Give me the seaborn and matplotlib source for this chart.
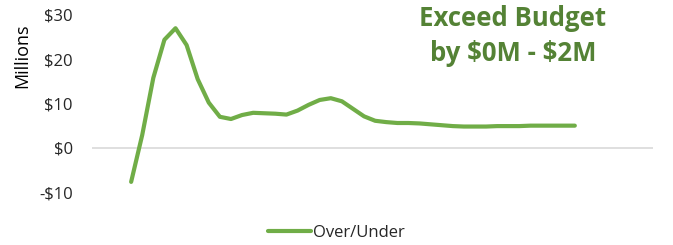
"""Over/Under budget line chart"""

import matplotlib

matplotlib.use("Agg")
import matplotlib.pyplot as plt
import pandas as pd
import seaborn as sns

# values in millions, one per period
periods = list(range(41))
over_under = [
    -7.7, 2.9, 15.8, 24.4, 27.0, 23.2, 15.5, 10.2, 7.0, 6.5,
    7.4, 7.9, 7.8, 7.7, 7.5, 8.4, 9.7, 10.8, 11.2, 10.5,
    8.8, 7.1, 6.1, 5.8, 5.6, 5.6, 5.5, 5.3, 5.1, 4.9,
    4.8, 4.8, 4.8, 4.9, 4.9, 4.9, 5.0, 5.0, 5.0, 5.0, 5.0,
]
y_ticks = [-10, 0, 10, 20, 30]
y_tick_labels = ["-$10", "$0", "$10", "$20", "$30"]
series_name = "Over/Under"
note_text = "Exceed Budget\nby \\$0M - \\$2M"

LINE_GREEN = "#70AD47"
TEXT_GREEN = "#548235"

sns.set_theme(style="white")
plt.rcParams["font.family"] = ["Open Sans", "DejaVu Sans"]

df = pd.DataFrame({"Period": periods, "Value": over_under, "Series": series_name})

fig = plt.figure(figsize=(6.73, 2.45), dpi=100)
ax = fig.add_axes([0.137, 0.216, 0.833, 0.723])

ax.axhline(0, color="#D9D9D9", linewidth=1.2, zorder=1)
sns.lineplot(
    data=df,
    x="Period",
    y="Value",
    hue="Series",
    palette=[LINE_GREEN],
    linewidth=3,
    solid_capstyle="round",
    solid_joinstyle="round",
    ax=ax,
    zorder=3,
)

ax.set_xlim(-3.51, 47.03)
ax.set_ylim(-10, 30)
ax.set_yticks(y_ticks)
ax.set_yticklabels(y_tick_labels, fontsize=12, color="#262626")
ax.set_xticks([])
ax.set_xlabel("")
ax.set_ylabel("Millions", fontsize=13, color="#000000")
ax.yaxis.set_label_coords(-0.108, 0.77)
ax.tick_params(axis="y", length=0, pad=14)
for spine in ax.spines.values():
    spine.set_visible(False)

fig.text(
    0.762,
    0.853,
    note_text,
    ha="center",
    va="center",
    fontsize=18.5,
    fontweight="bold",
    color=TEXT_GREEN,
    linespacing=1.4,
)

ax.legend_.remove()
handles, labels = ax.get_legend_handles_labels()
fig.legend(
    handles,
    labels,
    loc="center",
    bbox_to_anchor=(0.5, 0.05),
    frameon=False,
    fontsize=12,
    handlelength=2.6,
    handletextpad=0.1,
    labelcolor="#262626",
)

fig.savefig("out.png", dpi=100)
plt.close(fig)
